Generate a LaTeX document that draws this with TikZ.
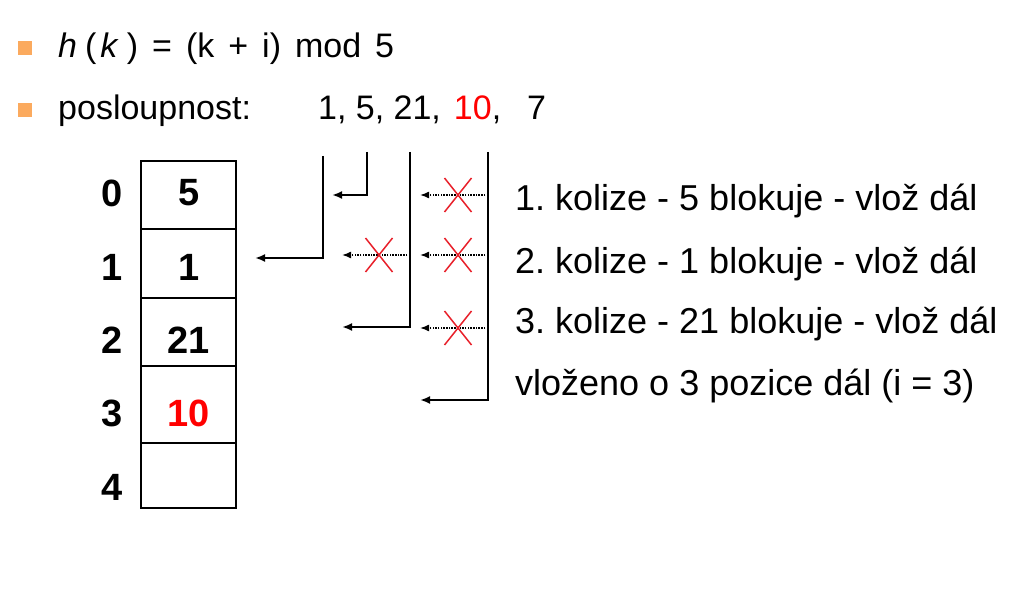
\documentclass[tikz,border=0pt]{standalone}
\usepackage{fontspec}
\setmainfont{Liberation Sans}
\usetikzlibrary{arrows.meta}
\definecolor{bulletorange}{HTML}{FBAA5E}
\definecolor{xred}{HTML}{E8202A}
\definecolor{valred}{HTML}{FF0000}
\frenchspacing
\begin{document}
\begin{tikzpicture}[x=1pt,y=-1pt,
  bulletsq/.style={fill=bulletorange, minimum size=14pt, inner sep=0pt},
  toptext/.style={anchor=base west, font=\fontsize{34}{40}\selectfont, inner sep=0pt},
  note/.style={anchor=base west, font=\fontsize{36}{43}\selectfont, inner sep=0pt},
  cell/.style={draw, line width=2pt, minimum width=95pt, inner sep=0pt},
  idx/.style={font=\bfseries\fontsize{38}{45}\selectfont, inner sep=0pt},
  flow/.style={line width=2pt, -{Latex[length=10pt,width=8pt]}},
  probe/.style={line width=1.5pt, dash pattern=on 1.5pt off 1.2pt, -{Latex[length=9pt,width=7pt]}},
  cross/.style={xred, line width=1.5pt}]
\useasboundingbox (0,0) rectangle (1010,604);
\fill[white] (0,0) rectangle (1010,604);

% bullets and header lines
\node[bulletsq] (b1) at (24.5,48) {};
\node[bulletsq] (b2) at (24.5,110) {};
\node[toptext] (t1) at (58,58) {\spaceskip=14pt\relax\textit{h}\hspace{8pt}(\hspace{4pt}\textit{k}\hspace{8pt}) = (k + i) mod 5};
\node[toptext] (t2) at (58,120) {posloupnost:};
\node[toptext] (t3) at (318,120) {1,\hspace{9.4pt}5,\hspace{9.4pt}21,\hspace{13pt}\textcolor{valred}{10},\hspace{26pt}7};

% table cells
\node[cell, minimum height=68pt] (c0) at (188.5,195) {};
\node[cell, minimum height=69pt] (c1) at (188.5,263.5) {};
\node[cell, minimum height=68pt] (c2) at (188.5,332) {};
\node[cell, minimum height=77pt] (c3) at (188.5,404.5) {};
\node[cell, minimum height=65pt] (c4) at (188.5,475.5) {};

% index labels
\node[idx] (i0) at (112,193) {0};
\node[idx] (i1) at (112,267) {1};
\node[idx] (i2) at (112,340) {2};
\node[idx] (i3) at (112,413) {3};
\node[idx] (i4) at (112,487) {4};

% values
\node[idx] (v0) at (189,193) {5};
\node[idx] (v1) at (189,267) {1};
\node[idx] (v2) at (189,340) {21};
\node[idx, text=valred] (v3) at (189,413) {10};

% notes
\node[note] (n1) at (515,211) {1. kolize - 5 blokuje - vlož dál};
\node[note] (n2) at (515,273) {2. kolize - 1 blokuje - vlož dál};
\node[note] (n3) at (515,334) {3. kolize - 21 blokuje - vlož dál};
\node[note] (n4) at (515,395) {vloženo o 3 pozice dál (i = 3)};

% connector coordinates
\coordinate (s1) at (323,156);
\coordinate (e1) at (255,258);
\coordinate (s2) at (367,152);
\coordinate (e2) at (332,195);
\coordinate (s3) at (410,152);
\coordinate (e3) at (342,327);
\coordinate (s4) at (488,152);
\coordinate (e4) at (420,400);

\coordinate (p1s) at (488,195);
\coordinate (p1e) at (420,195);
\coordinate (p2s) at (488,255);
\coordinate (p2e) at (420,255);
\coordinate (p3s) at (488,328);
\coordinate (p3e) at (420,328);
\coordinate (p4s) at (410,255);
\coordinate (p4e) at (342,255);

\draw[flow] (s1) |- (e1);
\draw[flow] (s2) |- (e2);
\draw[flow] (s3) |- (e3);
\draw[flow] (s4) |- (e4);

\draw[probe] (p1s) -- (p1e);
\draw[probe] (p2s) -- (p2e);
\draw[probe] (p3s) -- (p3e);
\draw[probe] (p4s) -- (p4e);

% red crosses
\coordinate (x1) at (458,195);
\coordinate (x2) at (458,255);
\coordinate (x3) at (458,328);
\coordinate (x4) at (379,255);
\foreach \c in {x1,x2,x3,x4}{
  \draw[cross] ([shift={(-13.5,-17)}]\c) -- ([shift={(13.5,17)}]\c);
  \draw[cross] ([shift={(-13.5,17)}]\c) -- ([shift={(13.5,-17)}]\c);
}
\end{tikzpicture}
\end{document}
